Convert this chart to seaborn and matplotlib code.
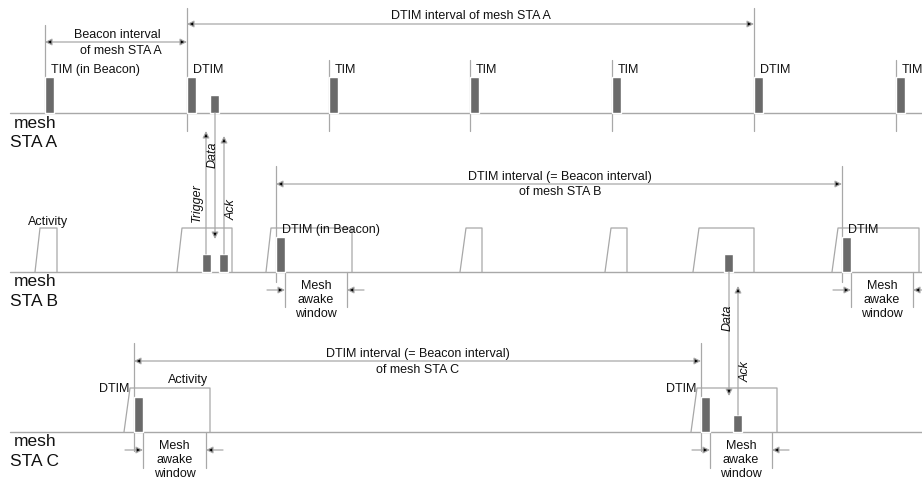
import matplotlib
matplotlib.use("Agg")
import matplotlib.pyplot as plt
import seaborn as sns
import pandas as pd

sns.set_theme(style="white")
plt.rcParams["font.family"] = ["Liberation Sans", "DejaVu Sans"]

LINE = "#a8a8a8"
BAR = "#6a6a6a"
INK = "#111111"
FS = 9

# ---- timeline values (time axis in px of the original drawing) ----
# mesh STA A
a_base = 114
a_beacons = [45, 187, 329, 470, 612, 754, 896]
a_labels = ["TIM (in Beacon)", "DTIM", "TIM", "TIM", "TIM", "DTIM", "TIM"]
a_is_dtim = [False, True, False, False, False, True, False]
a_data_frame = 210

# mesh STA B
b_base = 273
b_dtim = [276, 842]
b_dtim_labels = ["DTIM (in Beacon)", "DTIM"]
b_frames = [202, 219, 724]          # trigger, ack, data
b_activity = [(35, 40, 57), (177, 182, 232), (266, 271, 352), (460, 466, 482),
              (605, 611, 627), (693, 699, 754), (832, 838, 919)]
b_awake_end = [347, 913]

# mesh STA C
c_base = 433
c_dtim = [134, 701]
c_frames = [733]                    # ack
c_activity = [(124, 130, 210), (691, 697, 777)]
c_awake_end = [206, 772]

beacon_h, frame_h, w = 36, 18, 9
act_h = 44

fig = plt.figure(figsize=(9.22, 4.81), dpi=100)
ax = fig.add_axes([0, 0, 1, 1])
ax.set_xlim(0, 922)
ax.set_ylim(481, 0)
ax.axis("off")


def vline(x, y0, y1):
    ax.plot([x, x], [y0, y1], color=LINE, lw=0.9, zorder=1)


def arrow(x0, y0, x1, y1, both=False):
    ax.annotate("", xy=(x1, y1), xytext=(x0, y0),
                arrowprops=dict(arrowstyle="<|-|>" if both else "-|>",
                                mutation_scale=10, lw=0.9, ec=LINE, fc="black",
                                shrinkA=0, shrinkB=0), zorder=3)


def txt(x, y, s, ha="center", **kw):
    ax.text(x, y, s, ha=ha, va="center", fontsize=kw.pop("fs", FS), color=INK, **kw)


# baselines
base = pd.DataFrame({"x": [10, 922] * 3, "y": [a_base] * 2 + [b_base] * 2 + [c_base] * 2,
                     "sta": ["A", "A", "B", "B", "C", "C"]})
sns.lineplot(data=base, x="x", y="y", units="sta", estimator=None, color=LINE,
             lw=1.0, ax=ax, legend=False)

for name, yb in [("A", a_base), ("B", b_base), ("C", c_base)]:
    txt(14, yb + 9, "mesh", ha="left", fs=12.5)
    txt(10, yb + 29, "STA " + name, ha="left", fs=12.5)

# ---- STA A ----
ax.bar(a_beacons, -beacon_h, width=w, bottom=a_base, align="edge", color=BAR, zorder=2)
ax.bar([a_data_frame], -frame_h, width=w, bottom=a_base, align="edge", color=BAR, zorder=2)
for i, (x, lab, dt) in enumerate(zip(a_beacons, a_labels, a_is_dtim)):
    if i == 0:
        vline(x, 26, a_base)
    else:
        vline(x, 9 if dt else 61, 132)
    txt(x + 6, a_base - 44, lab, ha="left")
arrow(a_beacons[0], 43, a_beacons[1], 43, both=True)
txt(117, 35, "Beacon interval")
txt(121, 51, "of mesh STA A")
arrow(a_beacons[1], 25, a_beacons[5], 25, both=True)
txt(471, 16, "DTIM interval of mesh STA A")

# ---- STA B ----
for x0, x1, x2 in b_activity:
    ax.plot([x0, x1, x2, x2], [b_base, b_base - act_h, b_base - act_h, b_base],
            color=LINE, lw=0.9, zorder=1)
txt(48, 222, "Activity")
ax.bar(b_dtim, -35, width=w, bottom=b_base, align="edge", color=BAR, zorder=2)
ax.bar(b_frames, -frame_h, width=w, bottom=b_base, align="edge", color=BAR, zorder=2)
for x, lab, xe in zip(b_dtim, b_dtim_labels, b_awake_end):
    vline(x, 167, 283)
    txt(x + 6, b_base - 43, lab, ha="left")
    vline(x + w, b_base, 308)
    vline(xe, b_base, 308)
    arrow(x - 9, 291, x + w, 291)
    arrow(min(xe + 17, 922), 291, xe, 291)
    txt((x + w + xe) / 2, 300, "Mesh\nawake\nwindow")
arrow(b_dtim[0], 185, b_dtim[1], 185, both=True)
txt(560, 177, "DTIM interval (= Beacon interval)")
txt(560, 192, "of mesh STA B")

# ---- STA C ----
for x0, x1, x2 in c_activity:
    ax.plot([x0, x1, x2, x2], [c_base, c_base - act_h, c_base - act_h, c_base],
            color=LINE, lw=0.9, zorder=1)
txt(188, 380, "Activity")
ax.bar(c_dtim, -35, width=w, bottom=c_base, align="edge", color=BAR, zorder=2)
ax.bar(c_frames, -17, width=w, bottom=c_base, align="edge", color=BAR, zorder=2)
for x, xe in zip(c_dtim, c_awake_end):
    vline(x, 344, 452)
    txt(x - 5, c_base - 44, "DTIM", ha="right")
    vline(x + w, c_base, 469)
    vline(xe, c_base, 469)
    arrow(x - 9, 451, x + w, 451)
    arrow(xe + 17, 451, xe, 451)
    txt((x + w + xe) / 2, 460, "Mesh\nawake\nwindow")
arrow(c_dtim[0], 362, c_dtim[1], 362, both=True)
txt(418, 354, "DTIM interval (= Beacon interval)")
txt(418, 370, "of mesh STA C")

# ---- frame exchanges between stations ----
arrow(b_frames[0] + 4, b_base - frame_h, b_frames[0] + 4, 132)
txt(197, 203, "Trigger", rotation=90, style="italic")
arrow(a_data_frame + 5, a_base, a_data_frame + 5, 240)
txt(213, 155, "Data", rotation=90, style="italic")
arrow(b_frames[1] + 5, b_base - frame_h, b_frames[1] + 5, 137)
txt(232, 210, "Ack", rotation=90, style="italic")
arrow(b_frames[2] + 5, b_base, b_frames[2] + 5, 397)
txt(728, 318, "Data", rotation=90, style="italic")
arrow(c_frames[0] + 5, c_base - 17, c_frames[0] + 5, 287)
txt(746, 372, "Ack", rotation=90, style="italic")

fig.savefig("out.png", dpi=100, facecolor="white")
